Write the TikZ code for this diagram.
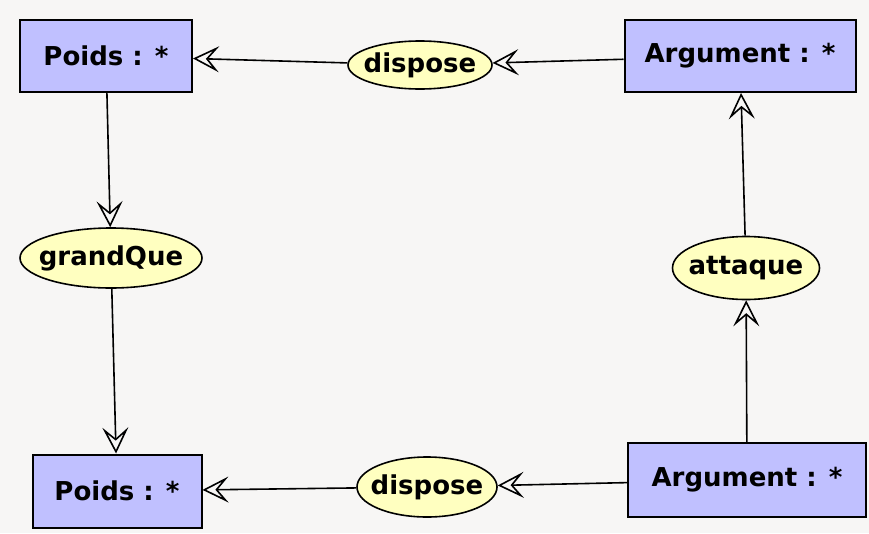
\documentclass[tikz,border=0pt]{standalone}
\usepackage{fontspec}
\setmainfont{DejaVu Sans}
\usetikzlibrary{shapes.geometric,arrows.meta}
\definecolor{bg}{HTML}{F7F6F5}
\definecolor{boxfill}{HTML}{C0C0FF}
\definecolor{ellfill}{HTML}{FFFFC0}
\newcommand{\zw}[1]{\makebox[0pt]{#1}}
\tikzset{
  cls/.style={draw=black, line width=2pt, fill=boxfill, inner sep=0pt, minimum height=72pt,
    font=\fontsize{26}{30}\selectfont\bfseries},
  rel/.style={draw=black, line width=1.6pt, fill=ellfill, ellipse, inner sep=0pt,
    font=\fontsize{26}{30}\selectfont\bfseries},
  conn/.style={line width=1.6pt, -{Stealth[open, length=26pt, width=26pt, inset=11pt]}}
}
\begin{document}
\begin{tikzpicture}[x=1pt,y=-1pt]
\fill[bg] (0,0) rectangle (869,533);
\useasboundingbox (0,0) rectangle (869,533);
\node[cls, minimum width=172pt] (p1) at (106,56) {Poids : *};
\node[cls, minimum width=231pt] (a1) at (740,56) {Argument : *};
\node[cls, minimum width=169pt, minimum height=73pt] (p2) at (117,491) {Poids : *};
\node[cls, minimum width=238pt, minimum height=74pt] (a2) at (747,480) {Argument : *};
\node[rel, minimum width=144pt, minimum height=48pt] (d1) at (420,65) {\zw{dispose}};
\node[rel, minimum width=182pt, minimum height=60pt] (g) at (111,258) {\zw{grandQue}};
\node[rel, minimum width=147pt, minimum height=63pt] (at) at (746,268) {\zw{attaque}};
\node[rel, minimum width=140pt, minimum height=60pt] (d2) at (427,487) {\zw{dispose}};
\draw[conn] (a1) -- (d1);
\draw[conn] (d1) -- (p1);
\draw[conn] (p1) -- (g);
\draw[conn] (g) -- (p2);
\draw[conn] (a2) -- (d2);
\draw[conn] (d2) -- (p2);
\draw[conn] (a2) -- (at);
\draw[conn] (at) -- (a1);
\end{tikzpicture}
\end{document}
